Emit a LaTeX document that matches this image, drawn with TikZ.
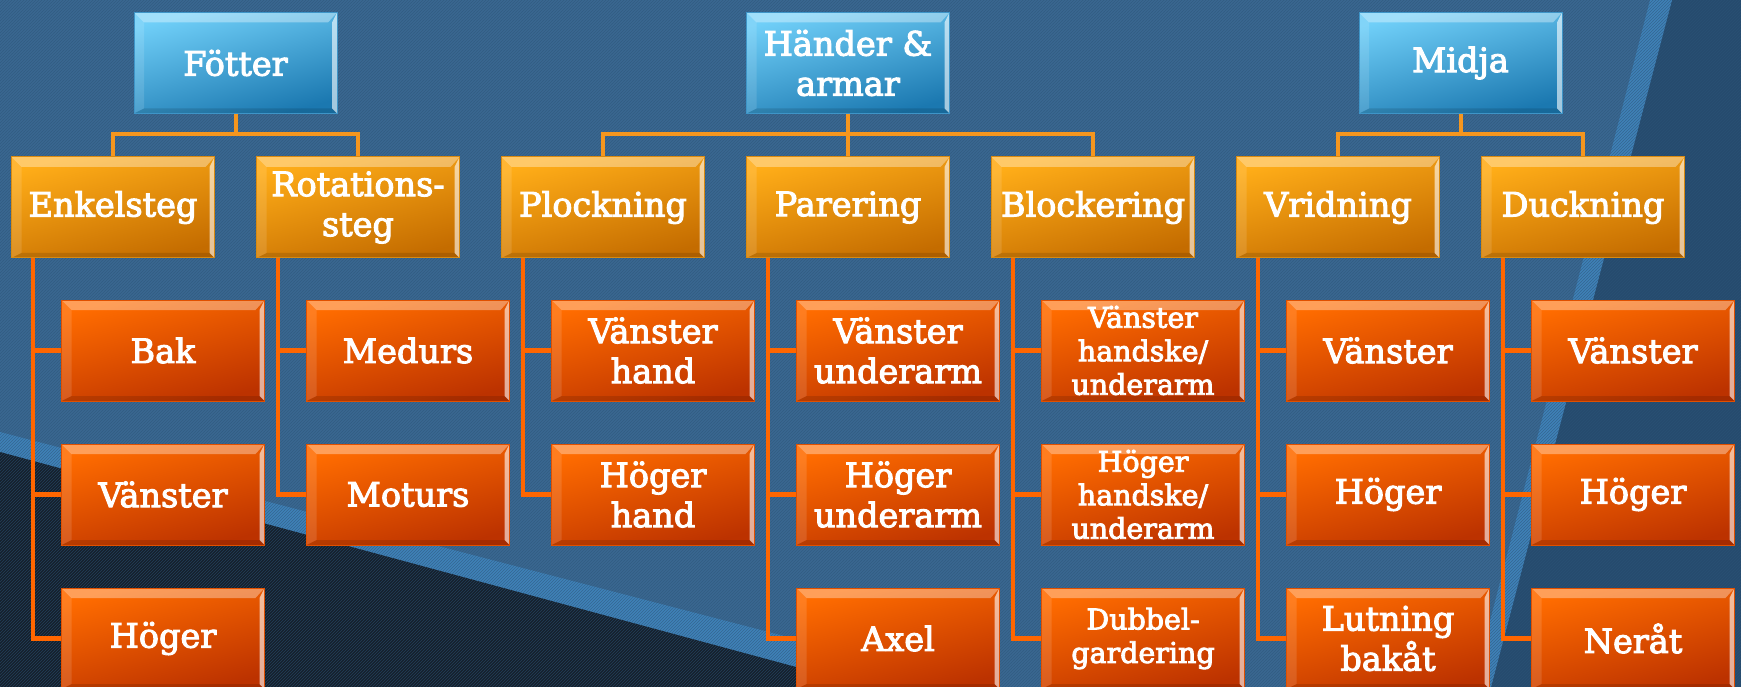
\documentclass[tikz,border=0pt]{standalone}
\usepackage{fontspec}
\setmainfont{DejaVu Serif}[FakeBold=3]
\usetikzlibrary{patterns}
\definecolor{bgmid}{HTML}{3A6891}
\definecolor{bgstripe}{HTML}{2C5478}
\definecolor{bgdark}{HTML}{15202C}
\definecolor{bgband}{HTML}{3F82B8}
\definecolor{bgright}{HTML}{264B6E}
\definecolor{aTop}{HTML}{70CFF8}
\definecolor{aBot}{HTML}{1B78B0}
\definecolor{aLine}{HTML}{3E95C8}
\definecolor{bTop}{HTML}{FFAD18}
\definecolor{bBot}{HTML}{C46C00}
\definecolor{bLine}{HTML}{D98A10}
\definecolor{cTop}{HTML}{FF6C00}
\definecolor{cBot}{HTML}{BC3200}
\definecolor{cLine}{HTML}{E05000}
\definecolor{conA}{HTML}{F5961E}
\definecolor{conB}{HTML}{FF6600}
\tikzset{
  bevel/.style={path picture={
    \fill[white,opacity=0.35] (path picture bounding box.north west) -- (path picture bounding box.north east)
      -- ([xshift=-9pt,yshift=-10pt]path picture bounding box.north east) -- ([xshift=10pt,yshift=-10pt]path picture bounding box.north west) -- cycle;
    \fill[white,opacity=0.12] (path picture bounding box.north west) -- ([xshift=10pt,yshift=-10pt]path picture bounding box.north west)
      -- ([xshift=10pt,yshift=5pt]path picture bounding box.south west) -- (path picture bounding box.south west) -- cycle;
    \fill[white,opacity=0.6] (path picture bounding box.north east) -- (path picture bounding box.south east)
      -- ([xshift=-5pt,yshift=5pt]path picture bounding box.south east) -- ([xshift=-5pt,yshift=-10pt]path picture bounding box.north east) -- cycle;
    \fill[black,opacity=0.12] (path picture bounding box.south west) -- (path picture bounding box.south east)
      -- ([xshift=-5pt,yshift=5pt]path picture bounding box.south east) -- ([xshift=10pt,yshift=5pt]path picture bounding box.south west) -- cycle;
  }},
  box/.style={rectangle, minimum width=203pt, minimum height=101pt, inner sep=0pt, text=white, align=center,
    line width=1pt, font=\fontsize{33.5}{40}\selectfont, bevel},
  lvlA/.style={box, top color=aTop, bottom color=aBot, shading angle=15, draw=aLine},
  lvlB/.style={box, top color=bTop, bottom color=bBot, shading angle=15, draw=bLine},
  lvlC/.style={box, top color=cTop, bottom color=cBot, shading angle=15, draw=cLine},
  small/.style={font=\fontsize{28.5}{33.5}\selectfont},
  conone/.style={draw=conA, line width=4pt},
  contwo/.style={draw=conB, line width=4.5pt},
}
\begin{document}
\begin{tikzpicture}[x=1pt,y=-1pt]
\useasboundingbox (0,0) rectangle (1741,687);
\clip (0,0) rectangle (1741,687);
% background
\fill[bgmid] (0,0) rectangle (1741,687);
\fill[bgright] (1672,0) -- (1741,0) -- (1741,687) -- (1491,687) -- cycle;
\fill[bgband] (1650,0) -- (1672,0) -- (1491,687) -- (1473,687) -- cycle;
\fill[bgband] (0,432) -- (980,687) -- (870,687) -- (0,452) -- cycle;
\fill[bgdark] (0,452) -- (870,687) -- (0,687) -- cycle;
\fill[pattern=north east lines, pattern color=bgstripe, opacity=0.6] (0,0) rectangle (1741,687);

% level 1
\node[lvlA] (fot) at (235.5,63) {Fötter};
\node[lvlA] (han) at (848,63) {Händer \&\\armar};
\node[lvlA] (mid) at (1460.5,63) {Midja};

% level 2
\node[lvlB] (enk) at (113,207.5) {Enkelsteg};
\node[lvlB] (rot) at (358,207.5) {Rotations-\\steg};
\node[lvlB] (plo) at (603,207.5) {Plockning};
\node[lvlB] (par) at (848,207.5) {Parering};
\node[lvlB] (blo) at (1093,207.5) {Blockering};
\node[lvlB] (vri) at (1338,207.5) {Vridning};
\node[lvlB] (duc) at (1583,207.5) {Duckning};

% level 3
\node[lvlC] (enk1) at (163,350.5) {Bak};
\node[lvlC] (enk2) at (163,494.5) {Vänster};
\node[lvlC] (enk3) at (163,638.5) {Höger};
\node[lvlC] (rot1) at (408,350.5) {Medurs};
\node[lvlC] (rot2) at (408,494.5) {Moturs};
\node[lvlC] (plo1) at (653,350.5) {Vänster\\hand};
\node[lvlC] (plo2) at (653,494.5) {Höger\\hand};
\node[lvlC] (par1) at (898,350.5) {Vänster\\underarm};
\node[lvlC] (par2) at (898,494.5) {Höger\\underarm};
\node[lvlC] (par3) at (898,638.5) {Axel};
\node[lvlC,small] (blo1) at (1143,350.5) {Vänster\\handske/\\underarm};
\node[lvlC,small] (blo2) at (1143,494.5) {Höger\\handske/\\underarm};
\node[lvlC,small] (blo3) at (1143,638.5) {Dubbel-\\gardering};
\node[lvlC] (vri1) at (1388,350.5) {Vänster};
\node[lvlC] (vri2) at (1388,494.5) {Höger};
\node[lvlC] (vri3) at (1388,638.5) {Lutning\\bakåt};
\node[lvlC] (duc1) at (1633,350.5) {Vänster};
\node[lvlC] (duc2) at (1633,494.5) {Höger};
\node[lvlC] (duc3) at (1633,638.5) {Neråt};

% level 1 -> 2 connectors
\foreach \p/\c in {fot/enk, fot/rot, han/plo, han/par, han/blo, mid/vri, mid/duc}
  \draw[conone] (\p.south) -- (\p.south |- 0,134) -| (\c.north);

% level 2 -> 3 connectors
\foreach \p/\c in {enk/enk1, enk/enk2, enk/enk3, rot/rot1, rot/rot2, plo/plo1, plo/plo2,
                   par/par1, par/par2, par/par3, blo/blo1, blo/blo2, blo/blo3,
                   vri/vri1, vri/vri2, vri/vri3, duc/duc1, duc/duc2, duc/duc3}
  \draw[contwo] ([xshift=-80pt]\p.south) |- (\c.west);
\end{tikzpicture}
\end{document}
